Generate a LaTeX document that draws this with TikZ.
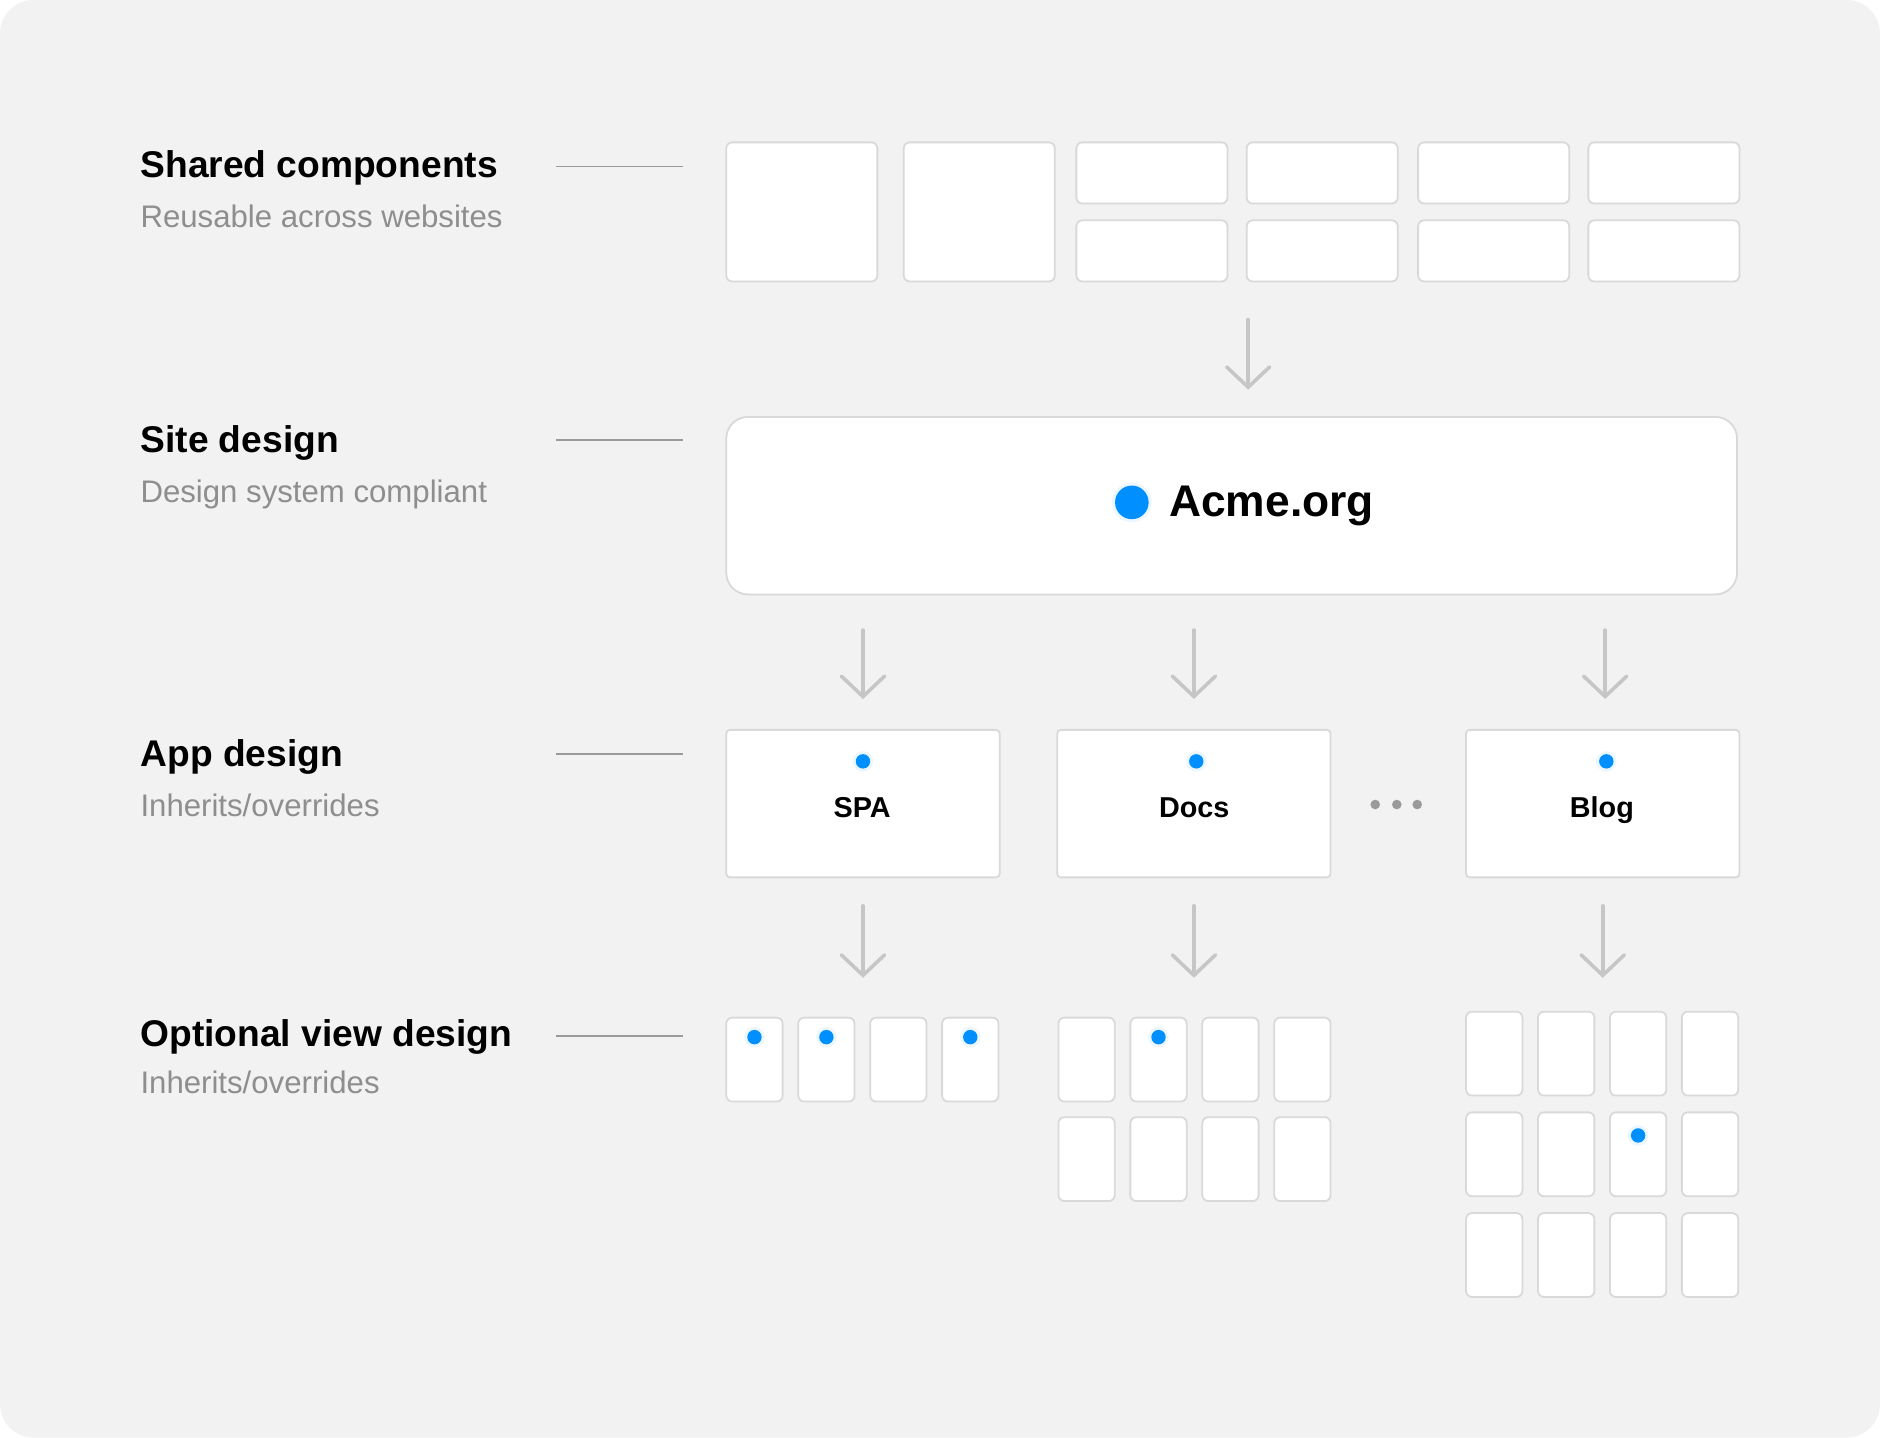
\documentclass[tikz,border=0pt]{standalone}
\usepackage{fontspec}
\setmainfont{Liberation Sans}
\usetikzlibrary{arrows.meta}
\definecolor{bgcol}{HTML}{F2F2F2}
\definecolor{boxline}{HTML}{D9D9D9}
\definecolor{arrowgray}{HTML}{C6C6C6}
\definecolor{subgray}{HTML}{8E8E8E}
\definecolor{rulegray}{HTML}{9A9A9A}
\definecolor{dotblue}{HTML}{008FFF}
\tikzset{
  box/.style={draw=boxline, line width=1.5pt, fill=white, rounded corners=5pt, anchor=north west, inner sep=0pt},
  bigbox/.style={box, minimum width=126pt, minimum height=116pt},
  smallbox/.style={box, minimum width=126pt, minimum height=51pt},
  appbox/.style={box, rounded corners=3pt, minimum width=228pt, minimum height=123pt},
  viewbox/.style={box, minimum width=47pt, minimum height=70pt},
  dot/.style={circle, fill=dotblue, draw=dotblue, draw opacity=0.08, line width=5pt, inner sep=0pt, minimum size=12pt},
  moredot/.style={circle, fill=rulegray, inner sep=0pt, minimum size=8pt},
  flow/.style={draw=arrowgray, line width=3pt, line cap=round, -{Straight Barb[length=17pt, width=36pt, line cap=round]}},
  rule/.style={draw=rulegray, line width=1.3pt},
  ttl/.style={anchor=base west, inner sep=0pt, font=\fontsize{31}{37}\selectfont\bfseries},
  sub/.style={anchor=base west, inner sep=0pt, text=subgray, font=\fontsize{26}{31}\selectfont},
  applbl/.style={anchor=base, inner sep=0pt, font=\fontsize{24}{29}\selectfont\bfseries}
}
\begin{document}
\begin{tikzpicture}[x=1pt, y=-1pt]
      \def\lx{117}% left column of the level labels
      \def\cw{60}% pitch of the view boxes
      \useasboundingbox (0,0) rectangle (1568,1199);
      \fill[bgcol, rounded corners=28pt] (0,0) rectangle (1568,1199);
      % -------------------------------------------- Shared components
      \node[bigbox] at (605,118) (sc_a1) {};
      \node[bigbox] at (753,118) (sc_a2) {};
      \node[smallbox] at (897,118)  (sc_t1) {};
      \node[smallbox] at (1039,118) (sc_t2) {};
      \node[smallbox] at (1182,118) (sc_t3) {};
      \node[smallbox] at (1324,118) (sc_t4) {};
      \node[smallbox] at (897,183)  (sc_b1) {};
      \node[smallbox] at (1039,183) (sc_b2) {};
      \node[smallbox] at (1182,183) (sc_b3) {};
      \node[smallbox] at (1324,183) (sc_b4) {};
      % -------------------------------------------- Site design
      \node[box, rounded corners=18pt, minimum width=843pt, minimum height=148pt] at (605,347) (acme) {};
      \node[dot, minimum size=28pt] at (944,419) (acme_dot) {};
      \node[anchor=base west, inner sep=0pt, font=\fontsize{37}{44}\selectfont\bfseries] at (975,431) (acme_txt) {Acme.org};
      \draw[flow] ([xshift=2pt, yshift=-31pt]sc_b2.south west) -- ([xshift=2pt, yshift=22pt]sc_b2.south west |- acme.north);
      % -------------------------------------------- App design
      \node[appbox] at (605,608)  (spa) {};
      \node[appbox] at (881,608)  (docs) {};
      \node[appbox] at (1222,608) (blog) {};
      \node[dot] at ([yshift=-27pt]spa.north)  (spa_dot) {};
      \node[dot] at ([xshift=2pt, yshift=-27pt]docs.north) (docs_dot) {};
      \node[dot] at ([xshift=3pt, yshift=-27pt]blog.north) (blog_dot) {};
      \node[applbl] at (719,682)  (spa_lbl) {SPA};
      \node[applbl] at (996,682)  (docs_lbl) {Docs};
      \node[applbl] at (1336,682) (blog_lbl) {Blog};
      \node[moredot] at (1147,671) (more_1) {};
      \node[moredot] at (1165,671) (more_2) {};
      \node[moredot] at (1182,671) (more_3) {};
      \draw[flow] ([yshift=-29pt]acme.south -| spa.north) -- ([yshift=25pt]spa.north);
      \draw[flow] ([yshift=-29pt]acme.south -| docs.north) -- ([yshift=25pt]docs.north);
      \draw[flow] ([xshift=2pt, yshift=-29pt]acme.south -| blog.north) -- ([xshift=2pt, yshift=25pt]blog.north);
      % -------------------------------------------- Optional view design
      % SPA views
      \node[viewbox] at (605,848) (spa_v1) {};
      \node[viewbox] at (605+\cw,848) (spa_v2) {};
      \node[viewbox] at (605+2*\cw,848) (spa_v3) {};
      \node[viewbox] at (605+3*\cw,848) (spa_v4) {};
      \node[dot] at ([yshift=-17pt]spa_v1.north) (spa_v1_dot) {};
      \node[dot] at ([yshift=-17pt]spa_v2.north) (spa_v2_dot) {};
      \node[dot] at ([yshift=-17pt]spa_v4.north) (spa_v4_dot) {};
      % Docs views
      \node[viewbox] at (882,848) (docs_v1) {};
      \node[viewbox] at (882+\cw,848) (docs_v2) {};
      \node[viewbox] at (882+2*\cw,848) (docs_v3) {};
      \node[viewbox] at (882+3*\cw,848) (docs_v4) {};
      \node[viewbox] at (882,931) (docs_v5) {};
      \node[viewbox] at (882+\cw,931) (docs_v6) {};
      \node[viewbox] at (882+2*\cw,931) (docs_v7) {};
      \node[viewbox] at (882+3*\cw,931) (docs_v8) {};
      \node[dot] at ([yshift=-17pt]docs_v2.north) (docs_v2_dot) {};
      % Blog views
      \node[viewbox] at (1222,843) (blog_v1) {};
      \node[viewbox] at (1222+\cw,843) (blog_v2) {};
      \node[viewbox] at (1222+2*\cw,843) (blog_v3) {};
      \node[viewbox] at (1222+3*\cw,843) (blog_v4) {};
      \node[viewbox] at (1222,927) (blog_v5) {};
      \node[viewbox] at (1222+\cw,927) (blog_v6) {};
      \node[viewbox] at (1222+2*\cw,927) (blog_v7) {};
      \node[viewbox] at (1222+3*\cw,927) (blog_v8) {};
      \node[viewbox] at (1222,1011) (blog_v9) {};
      \node[viewbox] at (1222+\cw,1011) (blog_v10) {};
      \node[viewbox] at (1222+2*\cw,1011) (blog_v11) {};
      \node[viewbox] at (1222+3*\cw,1011) (blog_v12) {};
      \node[dot] at ([yshift=-20pt]blog_v7.north) (blog_v7_dot) {};
      \draw[flow] ([yshift=-23pt]spa.south) -- ([yshift=-83pt]spa.south);
      \draw[flow] ([yshift=-23pt]docs.south) -- ([yshift=-83pt]docs.south);
      \draw[flow] ([yshift=-23pt]blog.south) -- ([yshift=-83pt]blog.south);
      % -------------------------------------------- Names
      \node[ttl] at (\lx,148) (sc_ttl) {Shared components};
      \node[sub] at (\lx,190) (sc_sub) {Reusable across websites};
      \node[ttl] at (\lx,377) (site_ttl) {Site design};
      \node[sub] at (\lx,419) (site_sub) {Design system compliant};
      \node[ttl] at (\lx,639) (app_ttl) {App design};
      \node[sub] at (\lx,681) (app_sub) {Inherits/overrides};
      \node[ttl] at (\lx,873) (view_ttl) {Optional view design};
      \node[sub] at (\lx,912) (view_sub) {Inherits/overrides};
      % -------------------------------------------- Rules
      \coordinate (sc_l) at (464,139);   \coordinate (sc_r) at (570,139);
      \coordinate (site_l) at (464,367); \coordinate (site_r) at (570,367);
      \coordinate (app_l) at (464,629);  \coordinate (app_r) at (570,629);
      \coordinate (view_l) at (464,864); \coordinate (view_r) at (570,864);
      \draw[rule] (sc_l) -- (sc_r);
      \draw[rule] (site_l) -- (site_r);
      \draw[rule] (app_l) -- (app_r);
      \draw[rule] (view_l) -- (view_r);
\end{tikzpicture}
\end{document}
